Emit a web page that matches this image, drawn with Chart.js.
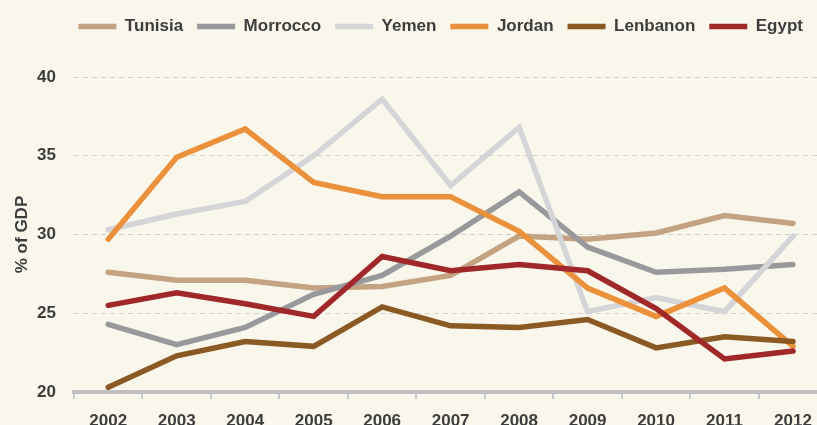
<!DOCTYPE html>
<html>
<head>
<meta charset="utf-8">
<script src="https://cdn.jsdelivr.net/npm/chart.js@4"></script>
<style>
  html, body { margin: 0; padding: 0; background: #f9f6ec; }
  #wrap { width: 817px; height: 425px; }
</style>
</head>
<body>
<div id="wrap"><canvas id="gdp"></canvas></div>
<script>
const years = [2002, 2003, 2004, 2005, 2006, 2007, 2008, 2009, 2010, 2011, 2012];
const countries = ['Tunisia', 'Morrocco', 'Yemen', 'Jordan', 'Lenbanon', 'Egypt'];
const tunisia = [27.6, 27.1, 27.1, 26.6, 26.7, 27.4, 29.9, 29.7, 30.1, 31.2, 30.7];
const morrocco = [24.3, 23.0, 24.1, 26.2, 27.4, 29.9, 32.7, 29.2, 27.6, 27.8, 28.1];
const yemen = [30.3, 31.3, 32.1, 35.0, 38.6, 33.1, 36.8, 25.1, 26.0, 25.1, 29.9];
const jordan = [29.7, 34.9, 36.7, 33.3, 32.4, 32.4, 30.2, 26.6, 24.8, 26.6, 22.9];
const lenbanon = [20.3, 22.3, 23.2, 22.9, 25.4, 24.2, 24.1, 24.6, 22.8, 23.5, 23.2];
const egypt = [25.5, 26.3, 25.6, 24.8, 28.6, 27.7, 28.1, 27.7, 25.3, 22.1, 22.6];
const yTicks = [20, 25, 30, 35, 40];

const colors = ['#c4a383', '#98999b', '#d4d5d6', '#ec913b', '#8b5a24', '#a0282b'];
const series = [tunisia, morrocco, yemen, jordan, lenbanon, egypt];
const textColor = '#3d3d3d';

const ctx = document.getElementById('gdp');

const background = {
    id: 'background',
    beforeDraw(chart) {
        const c = chart.ctx;
        c.save();
        c.fillStyle = '#f9f6ec';
        c.fillRect(0, 0, chart.width, chart.height);
        c.restore();
    }
};

// push the plot down, away from the legend
const legendGap = {
    id: 'legendGap',
    beforeInit(chart) {
        const fit = chart.legend.fit;
        chart.legend.fit = function () {
            fit.call(this);
            this.height += 32;
        };
    }
};

new Chart(ctx, {
    type: 'line',
    data: {
        datasets: countries.map((name, i) => ({
            label: name,
            data: years.map((y, j) => ({ x: y, y: series[i][j] })),
            borderColor: colors[i],
            backgroundColor: colors[i],
            borderWidth: 5.5,
            borderCapStyle: 'round',
            pointRadius: 0,
            tension: 0,
            order: countries.length - i
        }))
    },
    options: {
        responsive: true,
        maintainAspectRatio: false,
        animation: false,
        layout: { padding: { top: 4, left: 0, right: 0, bottom: 0 } },
        scales: {
            x: {
                type: 'linear',
                min: 2001.5,
                max: 2012.35,
                afterBuildTicks: (s) => { s.ticks = years.map(v => ({ value: v })); },
                afterFit: (s) => {
                    s.height = 33;
                    s.paddingLeft = 0;
                    s.paddingRight = 0;
                },
                ticks: {
                    callback: (v) => String(v),
                    color: textColor,
                    font: { family: 'Liberation Sans', size: 17, weight: 'bold' },
                    padding: 12,
                    maxRotation: 0,
                    autoSkip: false
                },
                grid: {
                    offset: true,
                    drawOnChartArea: false,
                    drawTicks: true,
                    tickLength: 7,
                    lineWidth: 2,
                    color: '#c9c9cb'
                },
                border: { display: true, color: '#c1c1c3', width: 4 }
            },
            y: {
                min: 20,
                max: 40,
                afterBuildTicks: (s) => { s.ticks = yTicks.map(v => ({ value: v })); },
                afterFit: (s) => { s.width = 74; },
                ticks: {
                    color: textColor,
                    font: { family: 'Liberation Sans', size: 17, weight: 'bold' },
                    padding: 18
                },
                grid: {
                    drawTicks: false,
                    color: '#d3d1cb',
                    lineWidth: 1
                },
                border: { display: false, dash: [5, 4] },
                title: {
                    display: true,
                    text: '% of GDP',
                    color: textColor,
                    font: { family: 'Liberation Sans', size: 17, weight: 'bold' },
                    padding: { top: 12, bottom: 0 }
                }
            }
        },
        plugins: {
            legend: {
                display: true,
                position: 'top',
                align: 'end',
                labels: {
                    usePointStyle: true,
                    pointStyle: 'line',
                    pointStyleWidth: 38,
                    padding: 14,
                    color: textColor,
                    font: { family: 'Liberation Sans', size: 17, weight: 'bold' },
                    sort: (a, b) => a.datasetIndex - b.datasetIndex
                }
            },
            tooltip: { enabled: false }
        }
    },
    plugins: [background, legendGap]
});
</script>
</body>
</html>
